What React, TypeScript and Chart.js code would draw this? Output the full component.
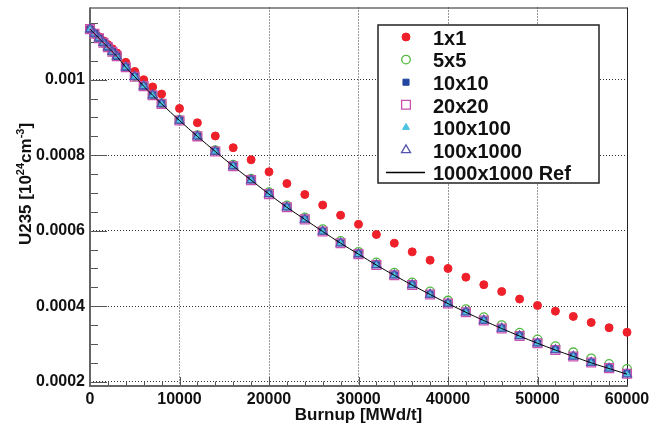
import React, { useEffect, useRef } from 'react';
import { Chart, registerables } from 'chart.js';

Chart.register(...registerables);

// ---------------- data ----------------
const burnup = [0, 500, 1000, 1500, 2000, 2500, 3000, 4000, 5000, 6000, 7000, 8000,
  10000, 12000, 14000, 16000, 18000, 20000, 22000, 24000, 26000, 28000, 30000, 32000,
  34000, 36000, 38000, 40000, 42000, 44000, 46000, 48000, 50000, 52000, 54000, 56000,
  58000, 60000];

const mesh1x1 = [0.001134, 0.001124, 0.001114, 0.001103, 0.001093, 0.001082, 0.001071, 0.001046,
  0.001022, 0.001000, 0.000981, 0.000962, 0.000924, 0.000886, 0.000851, 0.000820, 0.000788,
  0.000756, 0.000725, 0.000696, 0.000668, 0.000641, 0.000617, 0.000590, 0.000567, 0.000544,
  0.000522, 0.000500, 0.000477, 0.000457, 0.000439, 0.000419, 0.000402, 0.000387, 0.000373,
  0.000357, 0.000343, 0.000331];

const mesh5x5 = [0.001134, 0.001122, 0.001110, 0.001098, 0.001086, 0.001074, 0.001062, 0.001034,
  0.001009, 0.000984, 0.000961, 0.000938, 0.000894, 0.000853, 0.000813, 0.000775, 0.000738,
  0.000702, 0.000667, 0.000635, 0.000604, 0.000573, 0.000544, 0.000516, 0.000489, 0.000463,
  0.000439, 0.000415, 0.000392, 0.000371, 0.000350, 0.000330, 0.000312, 0.000294, 0.000278,
  0.000262, 0.000247, 0.000234];

const mesh10x10 = [0.001134, 0.001122, 0.001110, 0.001098, 0.001086, 0.001074, 0.001062, 0.001033,
  0.001008, 0.000983, 0.000960, 0.000937, 0.000893, 0.000851, 0.000811, 0.000772, 0.000735,
  0.000698, 0.000663, 0.000631, 0.000599, 0.000568, 0.000539, 0.000510, 0.000483, 0.000457,
  0.000432, 0.000408, 0.000385, 0.000363, 0.000342, 0.000322, 0.000303, 0.000285, 0.000268,
  0.000252, 0.000237, 0.000222];

const mesh20x20 = [0.001134, 0.001122, 0.001110, 0.001098, 0.001086, 0.001074, 0.001062, 0.001033,
  0.001008, 0.000983, 0.000959, 0.000936, 0.000892, 0.000850, 0.000810, 0.000771, 0.000734,
  0.000697, 0.000662, 0.000630, 0.000598, 0.000567, 0.000538, 0.000509, 0.000482, 0.000456,
  0.000431, 0.000407, 0.000384, 0.000362, 0.000341, 0.000321, 0.000302, 0.000284, 0.000267,
  0.000251, 0.000236, 0.000221];

const mesh100x100 = [0.001134, 0.001122, 0.001110, 0.001098, 0.001086, 0.001074, 0.001062, 0.001033,
  0.001008, 0.000983, 0.000959, 0.000936, 0.000892, 0.000850, 0.000810, 0.000771, 0.000734,
  0.000697, 0.000662, 0.000630, 0.000598, 0.000567, 0.000538, 0.000509, 0.000482, 0.000456,
  0.000431, 0.000407, 0.000384, 0.000362, 0.000341, 0.000321, 0.000302, 0.000284, 0.000267,
  0.000250, 0.000235, 0.000220];

const mesh100x1000 = [0.001134, 0.001122, 0.001110, 0.001098, 0.001086, 0.001074, 0.001062, 0.001033,
  0.001008, 0.000983, 0.000959, 0.000936, 0.000892, 0.000850, 0.000810, 0.000771, 0.000734,
  0.000697, 0.000662, 0.000630, 0.000598, 0.000567, 0.000538, 0.000509, 0.000482, 0.000456,
  0.000431, 0.000407, 0.000384, 0.000362, 0.000341, 0.000321, 0.000302, 0.000284, 0.000267,
  0.000250, 0.000235, 0.000220];

const ref1000x1000 = [0.001134, 0.001122, 0.001110, 0.001098, 0.001086, 0.001074, 0.001062, 0.001033,
  0.001008, 0.000983, 0.000959, 0.000936, 0.000892, 0.000850, 0.000810, 0.000771, 0.000734,
  0.000697, 0.000662, 0.000630, 0.000598, 0.000567, 0.000538, 0.000509, 0.000482, 0.000456,
  0.000431, 0.000407, 0.000384, 0.000362, 0.000341, 0.000321, 0.000302, 0.000284, 0.000267,
  0.000250, 0.000235, 0.000220];

const seriesLabels = ['1x1', '5x5', '10x10', '20x20', '100x100', '100x1000', '1000x1000 Ref'];

const xTitle = 'Burnup [MWd/t]';
const yTitleParts: [string, boolean][] = [['U235 [10', false], ['24', true], ['cm', false], ['-3', true], [']', false]];

const X_MIN = 0, X_MAX = 60000, X_STEP = 10000, X_MINOR = 2000;
const Y_MIN = 0.0001887, Y_MAX = 0.0011913, Y_STEP = 0.0002, Y_MINOR = 0.00005;

// ---------------- styles ----------------
type MarkerStyle = { shape: 'circle' | 'rect' | 'triangle' | 'line'; r: number; fill: string | null; stroke: string; lw: number };
const styles: MarkerStyle[] = [
  { shape: 'circle', r: 4, fill: 'rgb(238,32,42)', stroke: 'rgb(238,32,42)', lw: 1 },
  { shape: 'circle', r: 4.3, fill: null, stroke: 'rgb(85,185,65)', lw: 1.3 },
  { shape: 'rect', r: 4.3, fill: 'rgb(35,70,160)', stroke: 'rgb(35,70,160)', lw: 1 },
  { shape: 'rect', r: 6.2, fill: null, stroke: 'rgb(200,80,175)', lw: 1.3 },
  { shape: 'triangle', r: 4, fill: 'rgb(75,195,225)', stroke: 'rgb(75,195,225)', lw: 1 },
  { shape: 'triangle', r: 5.2, fill: null, stroke: 'rgb(85,85,175)', lw: 1.3 },
  { shape: 'line', r: 0, fill: null, stroke: '#000', lw: 1 },
];
const drawOrder = [6, 5, 3, 4, 2, 0, 1];

const FONT = '"Liberation Sans", Arial, sans-serif';

function drawMarker(ctx: CanvasRenderingContext2D, s: MarkerStyle, x: number, y: number) {
  ctx.beginPath();
  if (s.shape === 'circle') {
    ctx.arc(x, y, s.r, 0, Math.PI * 2);
  } else if (s.shape === 'rect') {
    const h = s.r * Math.SQRT1_2;
    ctx.rect(x - h, y - h, 2 * h, 2 * h);
  } else if (s.shape === 'triangle') {
    let a = 0;
    ctx.moveTo(x + Math.sin(a) * s.r, y - Math.cos(a) * s.r);
    a += (2 * Math.PI) / 3;
    ctx.lineTo(x + Math.sin(a) * s.r, y - Math.cos(a) * s.r);
    a += (2 * Math.PI) / 3;
    ctx.lineTo(x + Math.sin(a) * s.r, y - Math.cos(a) * s.r);
    ctx.closePath();
  }
  if (s.fill) { ctx.fillStyle = s.fill; ctx.fill(); }
  ctx.strokeStyle = s.stroke; ctx.lineWidth = s.lw; ctx.stroke();
}

const framePlugin = {
  id: 'rootFrame',
  beforeDatasetsDraw(chart: any) {
    const { ctx, chartArea: a, scales } = chart;
    const xs = scales.x, ys = scales.y;
    ctx.save();
    ctx.strokeStyle = '#555';
    ctx.lineWidth = 1;
    // y ticks (inward)
    for (let k = Math.ceil(Y_MIN / Y_MINOR); k * Y_MINOR <= Y_MAX; k++) {
      const v = k * Y_MINOR;
      const major = k % Math.round(Y_STEP / Y_MINOR) === 0;
      const py = Math.round(ys.getPixelForValue(v)) + 0.5;
      ctx.beginPath();
      ctx.moveTo(a.left, py);
      ctx.lineTo(a.left + (major ? 17 : 8), py);
      ctx.stroke();
    }
    // x ticks (inward)
    for (let k = Math.ceil(X_MIN / X_MINOR); k * X_MINOR <= X_MAX; k++) {
      const v = k * X_MINOR;
      const major = k % Math.round(X_STEP / X_MINOR) === 0;
      const px = Math.round(xs.getPixelForValue(v)) + 0.5;
      ctx.beginPath();
      ctx.moveTo(px, a.bottom);
      ctx.lineTo(px, a.bottom - (major ? 9 : 4.5));
      ctx.stroke();
    }
    // frame
    ctx.strokeStyle = '#222';
    ctx.lineWidth = 1;
    ctx.beginPath();
    ctx.moveTo(a.left, a.top + 0.5);
    ctx.lineTo(a.right + 0.5, a.top + 0.5);
    ctx.lineTo(a.right + 0.5, a.bottom);
    ctx.stroke();
    ctx.strokeStyle = '#666';
    ctx.lineWidth = 2;
    ctx.beginPath();
    ctx.moveTo(a.left, a.top);
    ctx.lineTo(a.left, a.bottom);
    ctx.lineTo(a.right + 1, a.bottom);
    ctx.stroke();
    ctx.restore();
  },
  afterDatasetsDraw(chart: any) {
    const { ctx } = chart;
    ctx.save();
    // legend box
    const L = 378, T = 25, R = 599, B = 183;
    ctx.fillStyle = '#fff';
    ctx.fillRect(L, T, R - L, B - T);
    ctx.strokeStyle = '#222';
    ctx.lineWidth = 1.5;
    ctx.strokeRect(L, T, R - L, B - T);
    ctx.font = `bold 20px ${FONT}`;
    ctx.textAlign = 'left';
    ctx.textBaseline = 'alphabetic';
    seriesLabels.forEach((lab, i) => {
      const cy = 37 + i * 22.6;
      const s = styles[i];
      if (s.shape === 'line') {
        ctx.strokeStyle = '#000';
        ctx.lineWidth = 1.5;
        ctx.beginPath();
        ctx.moveTo(386, cy);
        ctx.lineTo(425, cy);
        ctx.stroke();
      } else {
        drawMarker(ctx, s, 406, cy);
      }
      ctx.fillStyle = '#111';
      ctx.fillText(lab, 433, cy + 7.8);
    });
    ctx.restore();
  },
  afterDraw(chart: any) {
    const { ctx, chartArea: a } = chart;
    ctx.save();
    ctx.fillStyle = '#111';
    // x title
    ctx.font = `bold 17px ${FONT}`;
    ctx.textAlign = 'center';
    ctx.textBaseline = 'alphabetic';
    ctx.fillText(xTitle, (a.left + a.right) / 2, 419.5);
    // y title with superscripts
    const big = `bold 17px ${FONT}`, small = `bold 11px ${FONT}`;
    let total = 0;
    const widths = yTitleParts.map(([t, sup]) => {
      ctx.font = sup ? small : big;
      const w = ctx.measureText(t).width;
      total += w;
      return w;
    });
    ctx.translate(25, 184);
    ctx.rotate(-Math.PI / 2);
    ctx.textAlign = 'left';
    let cx = -total / 2;
    yTitleParts.forEach(([t, sup], i) => {
      ctx.font = sup ? small : big;
      ctx.fillText(t, cx, sup ? -1.5 : 6);
      cx += widths[i];
    });
    ctx.restore();
  },
};

function fmtY(v: number) {
  return String(parseFloat(v.toFixed(5)));
}

export default function App() {
  const ref = useRef<HTMLCanvasElement | null>(null);
  useEffect(() => {
    document.body.style.margin = '0';
    const canvas = ref.current;
    if (!canvas) return;
    const all = [mesh1x1, mesh5x5, mesh10x10, mesh20x20, mesh100x100, mesh100x1000, ref1000x1000];
    const datasets = all.map((vals, i) => {
      const s = styles[i];
      const pts = burnup.map((b, j) => ({ x: b, y: vals[j] }));
      if (s.shape === 'line') {
        return {
          label: seriesLabels[i], data: pts, showLine: true, borderColor: '#000', borderWidth: 1,
          pointRadius: 0, pointHoverRadius: 0, tension: 0.3, clip: false as any, order: drawOrder.indexOf(i),
        };
      }
      return {
        label: seriesLabels[i], data: pts, showLine: false,
        pointStyle: s.shape, pointRadius: s.r, pointHoverRadius: s.r,
        pointBackgroundColor: s.fill ?? 'rgba(0,0,0,0)', pointBorderColor: s.stroke, pointBorderWidth: s.lw,
        backgroundColor: s.fill ?? 'rgba(0,0,0,0)', borderColor: s.stroke,
        clip: false as any, order: drawOrder.indexOf(i),
      };
    });
    const tickFont = { family: FONT, size: 16, weight: 'bold' as const };
    const chart = new Chart(canvas, {
      type: 'scatter',
      data: { datasets: datasets as any },
      options: {
        animation: false,
        responsive: false,
        devicePixelRatio: 1,
        layout: { padding: { left: 0, top: 5, right: 34, bottom: 0 } },
        plugins: { legend: { display: false }, tooltip: { enabled: false } },
        events: [],
        scales: {
          x: {
            type: 'linear', min: X_MIN, max: X_MAX,
            afterFit: (s: any) => { s.height = 42; s.paddingLeft = 0; s.paddingRight = 0; },
            ticks: { stepSize: X_STEP, includeBounds: false, font: tickFont, color: '#111', padding: 4, maxRotation: 0, callback: (v: any) => String(v) },
            grid: { color: 'rgba(0,0,0,0.8)', lineWidth: 1, drawTicks: false },
            border: { display: false, dash: [1, 2] },
          },
          y: {
            type: 'linear', min: Y_MIN, max: Y_MAX,
            afterFit: (s: any) => { s.width = 90; s.paddingTop = 0; s.paddingBottom = 0; },
            ticks: { stepSize: Y_STEP, includeBounds: false, font: tickFont, color: '#111', padding: 5, callback: (v: any) => fmtY(Number(v)) },
            grid: { color: 'rgba(0,0,0,0.8)', lineWidth: 1, drawTicks: false },
            border: { display: false, dash: [1, 2] },
          },
        },
      },
      plugins: [framePlugin],
    });
    return () => chart.destroy();
  }, []);
  return <canvas ref={ref} width={661} height={428} style={{ display: 'block' }} />;
}
